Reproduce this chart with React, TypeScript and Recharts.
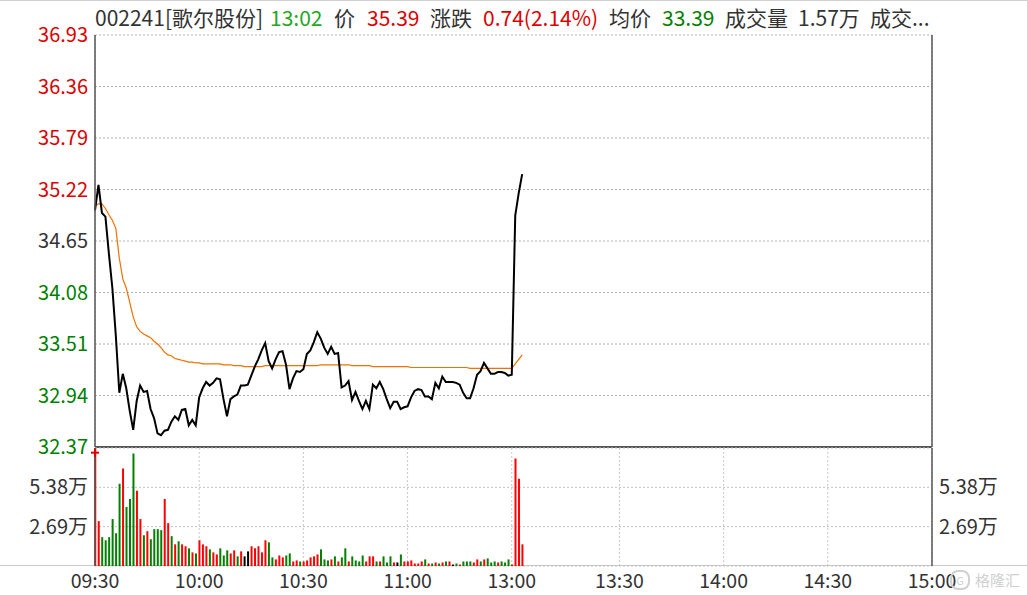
import React from "react";
import {
  ComposedChart,
  Line,
  Bar,
  Cell,
  XAxis,
  YAxis,
  CartesianGrid,
  ReferenceLine,
  ReferenceDot,
} from "recharts";

const FONT = '"Noto Sans CJK SC", "Noto Sans", sans-serif';
const RED = "#dc0000";
const GREEN = "#008000";
const GRAY = "#333333";
const FS = 20;

// minute slots: 0 = 09:30 ... 120 = 11:30, 121 = 13:00 ... 241 = 15:00
const TIME_TICKS = [0, 30, 60, 90, 120, 151, 181, 211, 241];
const TIME_LABELS = ["09:30", "10:00", "10:30", "11:00", "13:00", "13:30", "14:00", "14:30", "15:00"];

const PRE_CLOSE = 34.65;
const PRICE_TICKS = [32.37, 32.94, 33.51, 34.08, 34.65, 35.22, 35.79, 36.36, 36.93];
const PCT_TICKS = [-6.58, -4.94, -3.29, -1.65, 0, 1.65, 3.29, 4.94, 6.58];
const VOL_TICKS = [2.69, 5.38];
const VOL_MAX = 8.07;

const prices = [
  34.99, 35.27, 34.96, 34.92, 34.51, 34.13, 33.6, 32.97, 33.18, 33.02,
  32.77, 32.56, 32.88, 33.05, 32.98, 32.99, 32.79, 32.69, 32.52, 32.5,
  32.55, 32.56, 32.65, 32.71, 32.67, 32.78, 32.79, 32.61, 32.67, 32.61,
  32.92, 33.02, 33.09, 33.05, 33.08, 33.13, 33.12, 32.9, 32.71, 32.9,
  32.93, 32.95, 33.05, 33.05, 33.06, 33.16, 33.26, 33.34, 33.44, 33.52,
  33.32, 33.24, 33.34, 33.42, 33.43, 33.28, 33.01, 33.13, 33.21, 33.2,
  33.23, 33.4, 33.44, 33.53, 33.64, 33.57, 33.47, 33.4, 33.48, 33.4,
  33.41, 33.03, 33.05, 33.1, 32.89, 32.98, 32.88, 32.79, 32.88, 32.79,
  33.06, 33.02, 33.09, 33.01, 32.9, 32.8, 32.87, 32.87, 32.79, 32.81,
  32.82, 32.92, 32.99, 33.01, 33.0, 32.93, 32.93, 32.9, 33.08, 33.02,
  33.15, 33.09, 33.09, 33.09, 33.08, 33.06, 32.97, 32.91, 32.91, 33.02,
  33.17, 33.21, 33.3, 33.24, 33.18, 33.18, 33.2, 33.2, 33.19, 33.16,
  33.17, 34.93, 35.18, 35.39,
];

const avgPrices = [
  35.04, 35.06, 35.06, 35.01, 34.94, 34.88, 34.79, 34.46, 34.23, 34.13,
  33.97, 33.81, 33.7, 33.65, 33.62, 33.6, 33.58, 33.54, 33.51, 33.47,
  33.42, 33.39, 33.38, 33.35, 33.34, 33.33, 33.32, 33.31, 33.31, 33.3,
  33.3, 33.29, 33.29, 33.29, 33.29, 33.29, 33.29, 33.28, 33.28, 33.28,
  33.27, 33.27, 33.27, 33.26, 33.26, 33.26, 33.26, 33.26, 33.26, 33.27,
  33.27, 33.27, 33.27, 33.27, 33.27, 33.27, 33.27, 33.27, 33.27, 33.27,
  33.27, 33.27, 33.27, 33.27, 33.27, 33.28, 33.28, 33.28, 33.28, 33.28,
  33.28, 33.28, 33.28, 33.28, 33.27, 33.27, 33.27, 33.27, 33.27, 33.27,
  33.26, 33.26, 33.26, 33.26, 33.26, 33.26, 33.26, 33.26, 33.26, 33.26,
  33.26, 33.25, 33.25, 33.25, 33.25, 33.25, 33.25, 33.25, 33.25, 33.25,
  33.25, 33.25, 33.25, 33.25, 33.25, 33.25, 33.25, 33.25, 33.24, 33.24,
  33.24, 33.24, 33.24, 33.24, 33.24, 33.24, 33.24, 33.24, 33.24, 33.24,
  33.24, 33.29, 33.34, 33.39,
];

// volume in 万 shares
const volumes = [
  8.3, 3.07, 1.97, 1.76, 1.97, 3.21, 2.24, 5.62, 6.66, 4.04,
  4.59, 7.69, 5.14, 3.21, 2.1, 2.38, 1.83, 2.52, 2.52, 2.45,
  4.59, 2.93, 2.04, 1.48, 1.69, 1.48, 1.35, 1.21, 0.93, 0.86,
  1.76, 1.48, 1.35, 1.14, 0.93, 0.79, 1.21, 0.72, 1.07, 0.86,
  1.07, 0.66, 1.0, 0.66, 1.0, 1.35, 1.21, 1.35, 0.93, 1.76,
  1.62, 0.59, 0.45, 0.72, 0.59, 0.72, 0.86, 0.31, 0.38, 0.31,
  0.31, 0.38, 0.59, 0.66, 0.79, 1.14, 0.45, 0.38, 0.45, 0.66,
  0.31, 0.59, 1.21, 0.31, 0.66, 0.38, 0.31, 0.72, 0.31, 0.66,
  0.66, 0.31, 0.31, 0.66, 0.24, 0.66, 0.24, 0.24, 0.79, 0.31,
  0.31, 0.38, 0.17, 0.17, 0.31, 0.45, 0.17, 0.17, 0.24, 0.17,
  0.24, 0.31, 0.31, 0.1, 0.17, 0.1, 0.31, 0.31, 0.31, 0.24,
  0.45, 0.31, 0.45, 0.52, 0.24, 0.31, 0.24, 0.31, 0.24, 0.45,
  0.1, 7.35, 5.97, 1.48,
];

// r = up, g = down, k = flat
const volSide = (
  "rrggggggrg" + "ggrrgrgggg" + "rrgrgrrgrg" + "rrrgrrgggr" + "rgrkkrrrrr" +
  "ggrrrggrrg" + "rrrrrgggrg" + "rggrggggrr" + "rgrgggrkgr" + "rrrrrgrgrg" +
  "rgrkgrgggr" + "rgrgggrggg" + "rrrr"
).split("");

const SIDE_COLOR: Record<string, string> = { r: "#ff0000", g: GREEN, k: "#000000" };

const priceData = prices.map((p, i) => ({ i, price: p, avg: avgPrices[i] }));
const volData = volumes.map((v, i) => ({ i, vol: v, side: volSide[i] }));

const levelColor = (v: number) => (v > 1e-6 ? RED : v < -1e-6 ? GREEN : GRAY);

const PriceTick = (props: any) => {
  const { x, y, payload } = props;
  const v = payload.value as number;
  return (
    <text x={x} y={y} dy="0.355em" textAnchor="end" fill={levelColor(v - PRE_CLOSE)} fontSize={FS} fontFamily={FONT}>
      {v.toFixed(2)}
    </text>
  );
};

const PctTick = (props: any) => {
  const { x, y, payload } = props;
  const v = payload.value as number;
  return (
    <text x={x} y={y} dy="0.355em" textAnchor="start" fill={levelColor(v)} fontSize={FS} fontFamily={FONT}>
      {Math.abs(v).toFixed(2) + "%"}
    </text>
  );
};

const volTick = { fill: GRAY, fontSize: FS, fontFamily: FONT };
const timeTick = { fill: GRAY, fontSize: 19.5, fontFamily: FONT };

const Cross = (p: any) => (
  <g>
    <line x1={p.cx - 4} x2={p.cx + 4} y1={p.cy} y2={p.cy} stroke={RED} strokeWidth={2} />
    <line x1={p.cx} x2={p.cx} y1={p.cy - 4} y2={p.cy + 4} stroke={RED} strokeWidth={2} />
  </g>
);

const header: { text: string; left: number; color: string }[] = [
  { text: "002241[歌尔股份]", left: 95, color: GRAY },
  { text: "13:02", left: 270, color: "#22a822" },
  { text: "价", left: 334, color: GRAY },
  { text: "35.39", left: 367, color: RED },
  { text: "涨跌", left: 430, color: GRAY },
  { text: "0.74(2.14%)", left: 483, color: RED },
  { text: "均价", left: 609, color: GRAY },
  { text: "33.39", left: 662, color: GREEN },
  { text: "成交量", left: 725, color: GRAY },
  { text: "1.57万", left: 798, color: GRAY },
  { text: "成交...", left: 870, color: GRAY },
];

export default function App() {
  return (
    <div
      style={{
        position: "absolute",
        left: 0,
        top: 0,
        width: 1027,
        height: 595,
        background: "#fff",
        borderTop: "1px solid #d0d0d0",
        boxSizing: "border-box",
        overflow: "hidden",
        fontFamily: FONT,
      }}
    >
      {header.map((h) => (
        <span
          key={h.left}
          style={{ position: "absolute", left: h.left, top: 3, fontSize: 21, lineHeight: "26px", color: h.color, whiteSpace: "nowrap" }}
        >
          {h.text}
        </span>
      ))}

      <div style={{ position: "absolute", left: 0, top: 0 }}>
        <ComposedChart width={1027} height={460} data={priceData} margin={{ top: 34, right: 0, bottom: 14, left: 0 }}>
          <CartesianGrid yAxisId="l" vertical={false} stroke="#b0b0b0" strokeDasharray="2 2" />
          <CartesianGrid yAxisId="l" horizontal={false} stroke="#c8c8c8" strokeDasharray="2 2" />
          <XAxis
            dataKey="i"
            type="number"
            domain={[0, 241]}
            ticks={TIME_TICKS}
            height={0}
            tick={false}
            axisLine={false}
            tickLine={false}
          />
          <YAxis
            yAxisId="l"
            domain={[32.37, 36.93]}
            ticks={PRICE_TICKS}
            width={95}
            interval={0}
            axisLine={{ stroke: "#555", strokeWidth: 1.5 }}
            tickLine={false}
            tickSize={4}
            tickMargin={3}
            tick={<PriceTick />}
          />
          <YAxis
            yAxisId="r"
            orientation="right"
            domain={[-6.58, 6.58]}
            ticks={PCT_TICKS}
            width={95}
            interval={0}
            axisLine={{ stroke: "#555", strokeWidth: 1.5 }}
            tickLine={false}
            tickSize={4}
            tickMargin={3}
            tick={<PctTick />}
          />
          <ReferenceLine yAxisId="l" y={32.37} stroke="#555" strokeWidth={2} />
          <Line yAxisId="l" dataKey="avg" stroke="#f07000" strokeWidth={1.2} dot={false} isAnimationActive={false} />
          <Line yAxisId="l" dataKey="price" stroke="#000" strokeWidth={2} dot={false} isAnimationActive={false} />
        </ComposedChart>
      </div>

      <div style={{ position: "absolute", left: 0, top: 564, width: 1027, height: 1, background: "#c8c8c8" }} />

      <div style={{ position: "absolute", left: 0, top: 440 }}>
        <ComposedChart width={1027} height={155} data={volData} margin={{ top: 7, right: 0, bottom: 0, left: 0 }}>
          <CartesianGrid yAxisId="l" vertical={false} stroke="#c0c0c0" strokeDasharray="2 2" />
          <CartesianGrid yAxisId="l" horizontal={false} stroke="#c8c8c8" strokeDasharray="2 2" />
          <XAxis
            dataKey="i"
            type="number"
            domain={[0, 241]}
            ticks={TIME_TICKS}
            interval={0}
            tickFormatter={(v) => TIME_LABELS[TIME_TICKS.indexOf(v)]}
            height={30}
            axisLine={false}
            tickLine={false}
            tick={timeTick}
          />
          <YAxis
            yAxisId="l"
            domain={[0, VOL_MAX]}
            allowDataOverflow
            ticks={VOL_TICKS}
            interval={0}
            width={95}
            axisLine={{ stroke: "#555", strokeWidth: 1.5 }}
            tickLine={false}
            tickSize={4}
            tickMargin={3}
            tickFormatter={(v) => `${v.toFixed(2)}万`}
            tick={volTick}
          />
          <YAxis
            yAxisId="r"
            orientation="right"
            domain={[0, VOL_MAX]}
            allowDataOverflow
            ticks={VOL_TICKS}
            interval={0}
            width={95}
            axisLine={{ stroke: "#555", strokeWidth: 1.5 }}
            tickLine={false}
            tickSize={4}
            tickMargin={3}
            tickFormatter={(v) => `${v.toFixed(2)}万`}
            tick={volTick}
          />
          <Bar yAxisId="l" dataKey="vol" barSize={2} isAnimationActive={false}>
            {volData.map((d) => (
              <Cell key={d.i} fill={SIDE_COLOR[d.side]} />
            ))}
          </Bar>
          <ReferenceDot yAxisId="l" x={0} y={7.75} ifOverflow="visible" shape={<Cross />} />
        </ComposedChart>
      </div>

      <div
        style={{
          position: "absolute",
          left: 950,
          top: 568,
          fontSize: 15,
          lineHeight: "22px",
          color: "#d0d0d0",
          whiteSpace: "nowrap",
          display: "flex",
          alignItems: "center",
          gap: 5,
        }}
      >
        <span
          style={{
            display: "inline-block",
            width: 16,
            height: 16,
            borderRadius: 8,
            border: "2px solid #d0d0d0",
            fontSize: 11,
            lineHeight: "16px",
            textAlign: "center",
          }}
        >
          G
        </span>
        <span>格隆汇</span>
      </div>
    </div>
  );
}
